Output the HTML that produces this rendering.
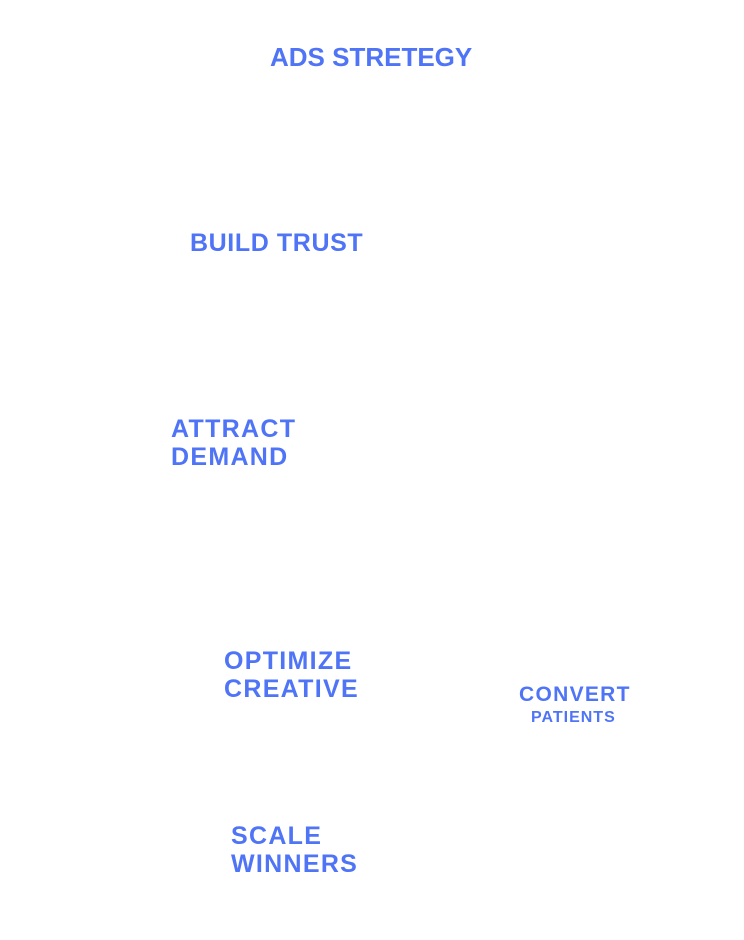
<!DOCTYPE html>
<html><head><meta charset="utf-8"><style>
html,body{margin:0;padding:0;background:#fff;}
body{width:744px;height:940px;position:relative;overflow:hidden;font-family:"Liberation Sans",sans-serif;font-weight:bold;color:#4f74f6;}
.t{position:absolute;font-size:25px;line-height:28px;letter-spacing:1.3px;white-space:nowrap;}
</style></head><body>
<div class="t" style="left:270px;top:43px;font-size:26px;letter-spacing:0px;">ADS STRETEGY</div>
<div class="t" style="left:190px;top:229px;letter-spacing:0.6px;">BUILD TRUST</div>
<div class="t" style="left:171px;top:415px;">ATTRACT<br>DEMAND</div>
<div class="t" style="left:224px;top:647px;">OPTIMIZE<br>CREATIVE</div>
<div class="t" style="left:519px;top:683px;font-size:21px;line-height:24px;letter-spacing:1.3px;">CONVERT</div>
<div class="t" style="left:531px;top:708px;font-size:16px;line-height:20px;letter-spacing:1px;">PATIENTS</div>
<div class="t" style="left:231px;top:822px;">SCALE<br>WINNERS</div>
</body></html>
